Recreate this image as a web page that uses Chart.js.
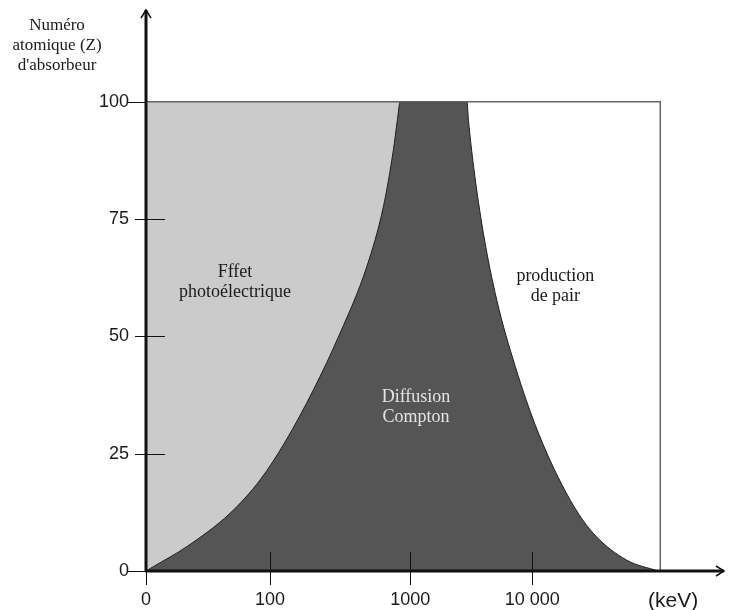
<!DOCTYPE html>
<html lang="fr">
<head>
<meta charset="utf-8">
<script src="https://cdn.jsdelivr.net/npm/chart.js@4.4.0/dist/chart.umd.min.js"></script>
<style>
  html, body { margin: 0; padding: 0; background: #fff; }
  #wrap { width: 729px; height: 610px; }
</style>
</head>
<body>
<div id="wrap"><canvas id="chart" width="729" height="610"></canvas></div>
<script>
// Axe des énergies schématique : 0..100 = largeur du cadre, graduations placées sur ce repère
const xTickValues = [0, 24.1, 51.4, 75.1, 102.5];
const xTickLabels = ['0', '100', '1000', '10 000', '(keV)'];
const yTickValues = [0, 25, 50, 75, 100];

// frontière effet photoélectrique / diffusion Compton
const photoX = [0, 1.42, 7.92, 16.34, 22.18, 27.04, 32.55, 37.74, 42.94, 46.17, 48.11, 48.89, 49.42];
const photoZ = [0, 0.92, 5.18, 12.3, 19.4, 27.5, 38.6, 50.7, 64.9, 77.7, 89.8, 96.2, 100];

// frontière diffusion Compton / production de paire
const pairX = [62.4, 62.7, 63.7, 65.6, 68.2, 71.8, 76.3, 82.5, 87.0, 93.5, 99.6];
const pairZ = [100, 96.1, 86.2, 72.0, 57.8, 43.6, 29.4, 15.1, 8.0, 2.3, 0];

const frameX = [0, 100, 100];
const frameZ = [100, 100, 0];

const titleLines = ['Numéro', 'atomique (Z)', "d'absorbeur"];

const zones = [
    { lines: ['Fffet', 'photoélectrique'], x: 17.3, z: 61.5, color: '#1a1a1a' },
    { lines: ['Diffusion', 'Compton'], x: 52.5, z: 35.0, color: '#e4e4e4' },
    { lines: ['production', 'de pair'], x: 79.6, z: 60.6, color: '#1a1a1a' }
];

const SERIF = '"Liberation Serif", "DejaVu Serif", serif';
const SANS = '"Liberation Sans", Arial, sans-serif';

function toPoints(xs, ys) {
    return xs.map((x, i) => ({ x: x, y: ys[i] }));
}

// zone Compton : sous les deux frontières, fermée par le haut du cadre
const comptonPts = toPoints(photoX, photoZ).concat(toPoints(pairX, pairZ));
// zone photoélectrique : rectangle jusqu'au début de la production de paire, recouvert par Compton
const photoPts = [{ x: 0, y: 100 }, { x: pairX[0], y: 100 }];

// pas de marge automatique autour des échelles
function noScalePadding(s) {
    s.paddingTop = 0;
    s.paddingBottom = 0;
    s.paddingLeft = 0;
    s.paddingRight = 0;
}

// axes fléchés, graduations et textes des zones
const axesPlugin = {
    id: 'axesFleches',
    afterDatasetsDraw(chart) {
        const ctx = chart.ctx;
        const sx = chart.scales.x, sy = chart.scales.y;
        const x0 = sx.getPixelForValue(0);
        const y0 = sy.getPixelForValue(0);
        const top = chart.chartArea.top + 2;
        const right = chart.chartArea.right + 2;

        ctx.save();
        ctx.strokeStyle = '#111';
        ctx.lineWidth = 1;

        // graduations verticales
        yTickValues.forEach(v => {
            const py = Math.round(sy.getPixelForValue(v)) + 0.5;
            const edge = (v === 0 || v === 100);
            ctx.beginPath();
            ctx.moveTo(x0 - (edge ? 18 : 11), py);
            ctx.lineTo(x0 + (edge ? 0 : 19), py);
            ctx.stroke();
        });
        // graduations horizontales
        xTickValues.forEach(v => {
            if (v > 100) return;
            const px = Math.round(sx.getPixelForValue(v)) + 0.5;
            ctx.beginPath();
            ctx.moveTo(px, v === 0 ? y0 : y0 - 19);
            ctx.lineTo(px, y0 + 14);
            ctx.stroke();
        });

        // axes épais
        ctx.lineWidth = 3;
        ctx.beginPath();
        ctx.moveTo(x0, y0 + 1);
        ctx.lineTo(x0, top);
        ctx.moveTo(x0 - 1, y0);
        ctx.lineTo(right, y0);
        ctx.stroke();

        // flèches
        ctx.lineWidth = 1.5;
        ctx.beginPath();
        ctx.moveTo(x0 - 5, top + 8);
        ctx.lineTo(x0, top);
        ctx.lineTo(x0 + 5, top + 8);
        ctx.moveTo(right - 8, y0 - 5);
        ctx.lineTo(right, y0);
        ctx.lineTo(right - 8, y0 + 5);
        ctx.stroke();

        // textes des zones
        ctx.font = '18px ' + SERIF;
        ctx.textAlign = 'center';
        ctx.textBaseline = 'middle';
        zones.forEach(zn => {
            const cx = sx.getPixelForValue(zn.x);
            const cy = sy.getPixelForValue(zn.z);
            ctx.fillStyle = zn.color;
            zn.lines.forEach((t, i) => {
                ctx.fillText(t, cx, cy + (i - (zn.lines.length - 1) / 2) * 20);
            });
        });

        // titre de l'axe vertical
        ctx.font = '17px ' + SERIF;
        ctx.fillStyle = '#1a1a1a';
        ctx.textBaseline = 'alphabetic';
        titleLines.forEach((t, i) => {
            ctx.fillText(t, 57, 30 + i * 20);
        });
        ctx.restore();
    }
};

new Chart('chart', {
    type: 'line',
    data: {
        datasets: [
            {
                label: 'cadre',
                data: toPoints(frameX, frameZ),
                borderColor: '#666666',
                borderWidth: 1.5,
                fill: false,
                order: 0
            },
            {
                label: 'Diffusion Compton',
                data: comptonPts,
                borderColor: '#1e1e1e',
                borderWidth: 1,
                backgroundColor: '#555555',
                fill: 'origin',
                cubicInterpolationMode: 'monotone',
                order: 1
            },
            {
                label: 'Effet photoélectrique',
                data: photoPts,
                borderWidth: 0,
                borderColor: 'rgba(0,0,0,0)',
                backgroundColor: '#cbcbcb',
                fill: 'origin',
                order: 2
            }
        ]
    },
    options: {
        responsive: false,
        animation: false,
        layout: { padding: { top: 8, right: 7, left: 0, bottom: 0 } },
        elements: { point: { radius: 0, hoverRadius: 0 } },
        plugins: {
            legend: { display: false },
            tooltip: { enabled: false }
        },
        scales: {
            x: {
                type: 'linear',
                min: 0,
                max: 112,
                grid: { display: false, drawTicks: false },
                border: { display: false },
                afterBuildTicks: s => { s.ticks = xTickValues.map(v => ({ value: v })); },
                afterFit: s => { s.height = 39; noScalePadding(s); },
                ticks: {
                    autoSkip: false,
                    maxRotation: 0,
                    padding: 18,
                    color: '#1a1a1a',
                    font: c => ({ family: SANS, size: c.index === 4 ? 21 : 18 }),
                    callback: (v, i) => xTickLabels[i]
                }
            },
            y: {
                type: 'linear',
                min: 0,
                max: 120,
                grid: { display: false, drawTicks: false },
                border: { display: false },
                afterBuildTicks: s => { s.ticks = yTickValues.map(v => ({ value: v })); },
                afterFit: s => { s.width = 146; noScalePadding(s); },
                ticks: {
                    padding: 17,
                    color: '#1a1a1a',
                    font: { family: SANS, size: 18 }
                }
            }
        }
    },
    plugins: [axesPlugin]
});
</script>
</body>
</html>
